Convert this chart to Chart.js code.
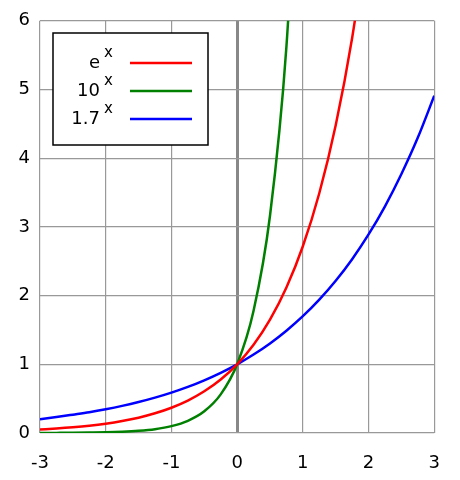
<!DOCTYPE html>
<html><head><meta charset="utf-8">
<script src="https://cdn.jsdelivr.net/npm/chart.js@4"></script>
<style>body{margin:0;background:#fff}</style>
</head><body>
<canvas id="c" width="460" height="480"></canvas>
<script>
const xs = [-3,-2.75,-2.5,-2.25,-2,-1.75,-1.5,-1.25,-1,-0.75,-0.5,-0.25,0,0.25,0.5,0.75,1,1.25,1.5,1.75,2,2.25,2.5,2.75,3];
const expE = [0.05,0.064,0.082,0.105,0.135,0.174,0.223,0.287,0.368,0.472,0.607,0.779,1,1.284,1.649,2.117,2.718,3.49,4.48,5.75,7.39,null,null,null,null];
const exp10 = [0.001,0.0018,0.003,0.006,0.01,0.018,0.032,0.056,0.1,0.178,0.316,0.562,1,1.778,3.162,5.623,10,null,null,null,null,null,null,null,null];
const exp17 = [0.2,0.232,0.267,0.303,0.346,0.395,0.451,0.515,0.588,0.671,0.767,0.876,1,1.142,1.304,1.489,1.7,1.941,2.216,2.53,2.89,3.3,3.77,4.30,4.91];
const bases = ['e', '10', '1.7'];
const colors = ['#ff0000', '#008000', '#0000ff'];

const pts = ys => xs.map((x, i) => ({x: x, y: ys[i]})).filter(p => p.y !== null);

const legendBox = {
    id: 'legendBox',
    afterDraw(chart) {
        const ctx = chart.ctx;
        ctx.save();
        ctx.fillStyle = '#fff';
        ctx.fillRect(53, 33, 155, 112);
        ctx.strokeStyle = '#000';
        ctx.lineWidth = 1.5;
        ctx.strokeRect(53, 33, 155, 112);
        bases.forEach((b, i) => {
            const y = 63 + i * 28;
            ctx.fillStyle = '#000';
            ctx.font = '18px "DejaVu Sans"';
            ctx.textAlign = 'right';
            ctx.textBaseline = 'middle';
            ctx.fillText(b, 100, y);
            ctx.font = '15px "DejaVu Sans"';
            ctx.textAlign = 'left';
            ctx.fillText('x', 104, y - 10);
            ctx.strokeStyle = colors[i];
            ctx.lineWidth = 2.5;
            ctx.beginPath();
            ctx.moveTo(130, y);
            ctx.lineTo(192, y);
            ctx.stroke();
        });
        ctx.restore();
    }
};

new Chart(document.getElementById('c'), {
    type: 'scatter',
    data: {
        datasets: [expE, exp10, exp17].map((d, i) => ({
            data: pts(d),
            showLine: true,
            borderColor: colors[i],
            borderWidth: 2.5,
            pointRadius: 0,
            cubicInterpolationMode: 'monotone',
        }))
    },
    options: {
        responsive: false,
        animation: false,
        layout: { padding: { top: 18, right: 25, left: 0, bottom: 0 } },
        plugins: { legend: { display: false }, tooltip: { enabled: false } },
        scales: {
            x: {
                min: -3, max: 3,
                ticks: { stepSize: 1, color: '#000', font: { size: 18, family: 'DejaVu Sans' }, padding: 20 },
                grid: { color: c => c.tick.value === 0 ? '#888' : '#999', lineWidth: c => c.tick.value === 0 ? 3 : 1.2, drawTicks: false },
                border: { display: false },
                afterFit: s => { s.height = 47; }
            },
            y: {
                min: 0, max: 6,
                ticks: { stepSize: 1, color: '#000', font: { size: 18, family: 'DejaVu Sans' }, padding: 10 },
                grid: { color: '#999', lineWidth: 1.2, drawTicks: false },
                border: { display: false },
                afterFit: s => { s.width = 40; }
            }
        }
    },
    plugins: [legendBox]
});
</script>
</body></html>
